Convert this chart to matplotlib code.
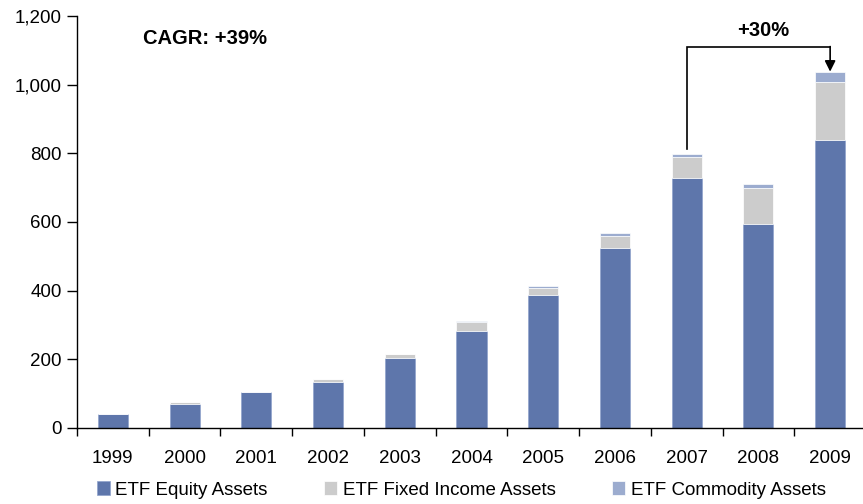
import matplotlib
matplotlib.use("Agg")
import matplotlib.pyplot as plt
import numpy as np

years = ["1999", "2000", "2001", "2002", "2003", "2004", "2005", "2006", "2007", "2008", "2009"]
equity = [40, 70, 105, 134, 204, 282, 386, 524, 728, 595, 840]
fixed_income = [0, 6, 1, 9, 11, 26, 21, 36, 61, 104, 167]
commodity = [0, 0, 0, 0, 0, 3, 7, 9, 10, 13, 31]
series_names = ["ETF Equity Assets", "ETF Fixed Income Assets", "ETF Commodity Assets"]
y_ticks = [0, 200, 400, 600, 800, 1000, 1200]
cagr_label = "CAGR: +39%"
growth_label = "+30%"

plt.rcParams['font.family'] = ['Liberation Sans', 'DejaVu Sans']

W, H = 863, 504
fig = plt.figure(figsize=(W / 100, H / 100), dpi=100)
left, right, top, bottom = 77, 866, 16, 428
ax = fig.add_axes([left / W, (H - bottom) / H, (right - left) / W, (bottom - top) / H])

x = np.arange(len(years))
c_eq, c_fi, c_co = "#5E76AB", "#CCCCCC", "#9CACCF"
w = 0.42
eq = np.array(equity)
fi = np.array(fixed_income)
co = np.array(commodity)
ax.bar(x, eq, w, color=c_eq, edgecolor="#8FA2CC", linewidth=0.5, label=series_names[0])
ax.bar(x, fi, w, bottom=eq, color=c_fi, edgecolor="white", linewidth=0.5, label=series_names[1])
ax.bar(x, co, w, bottom=eq + fi, color=c_co, edgecolor="white", linewidth=0.5, label=series_names[2])

ax.set_xlim(-0.5, len(years) - 0.5)
ax.set_ylim(0, 1200)
ax.set_yticks(y_ticks)
ax.set_yticklabels([f"{v:,}" for v in y_ticks])
ax.set_xticks(x)
ax.set_xticklabels(years)
ax.set_xticks(np.arange(len(years)) - 0.5, minor=True)
ax.tick_params(axis='x', which='major', length=0, pad=16, labelsize=13.5)
ax.tick_params(axis='x', which='minor', length=6, width=1, direction='out')
ax.tick_params(axis='y', length=7, width=1, direction='out', pad=4, labelsize=13.5)
for s in ["top", "right"]:
    ax.spines[s].set_visible(False)
ax.spines["left"].set_linewidth(1)
ax.spines["bottom"].set_linewidth(1)

# annotations
ax.text(1.29, 1135, cagr_label, fontsize=14.5, fontweight='bold', ha='center', va='center')
i0, i1 = years.index("2007"), years.index("2009")
tot = eq + fi + co
ytop = 1109
ax.plot([x[i0], x[i0], x[i1]], [814, ytop, ytop], color='black', lw=1.2, solid_joinstyle='miter')
ax.annotate("", xy=(x[i1], tot[i1]), xytext=(x[i1], ytop + 2),
            arrowprops=dict(arrowstyle='-|>', color='black', lw=1.2, mutation_scale=16,
                            shrinkA=0, shrinkB=0))
ax.text((x[i0] + x[i1]) / 2 + 0.07, 1158, growth_label, fontsize=14.5, fontweight='bold',
        ha='center', va='center')

leg = fig.legend(loc='center', bbox_to_anchor=(461 / W, 1 - 490 / H), ncol=3, frameon=False,
                 fontsize=13.5, handlelength=0.7, handleheight=0.7, handletextpad=0.3,
                 columnspacing=3.0, borderaxespad=0)

fig.savefig("out.png", dpi=100)
